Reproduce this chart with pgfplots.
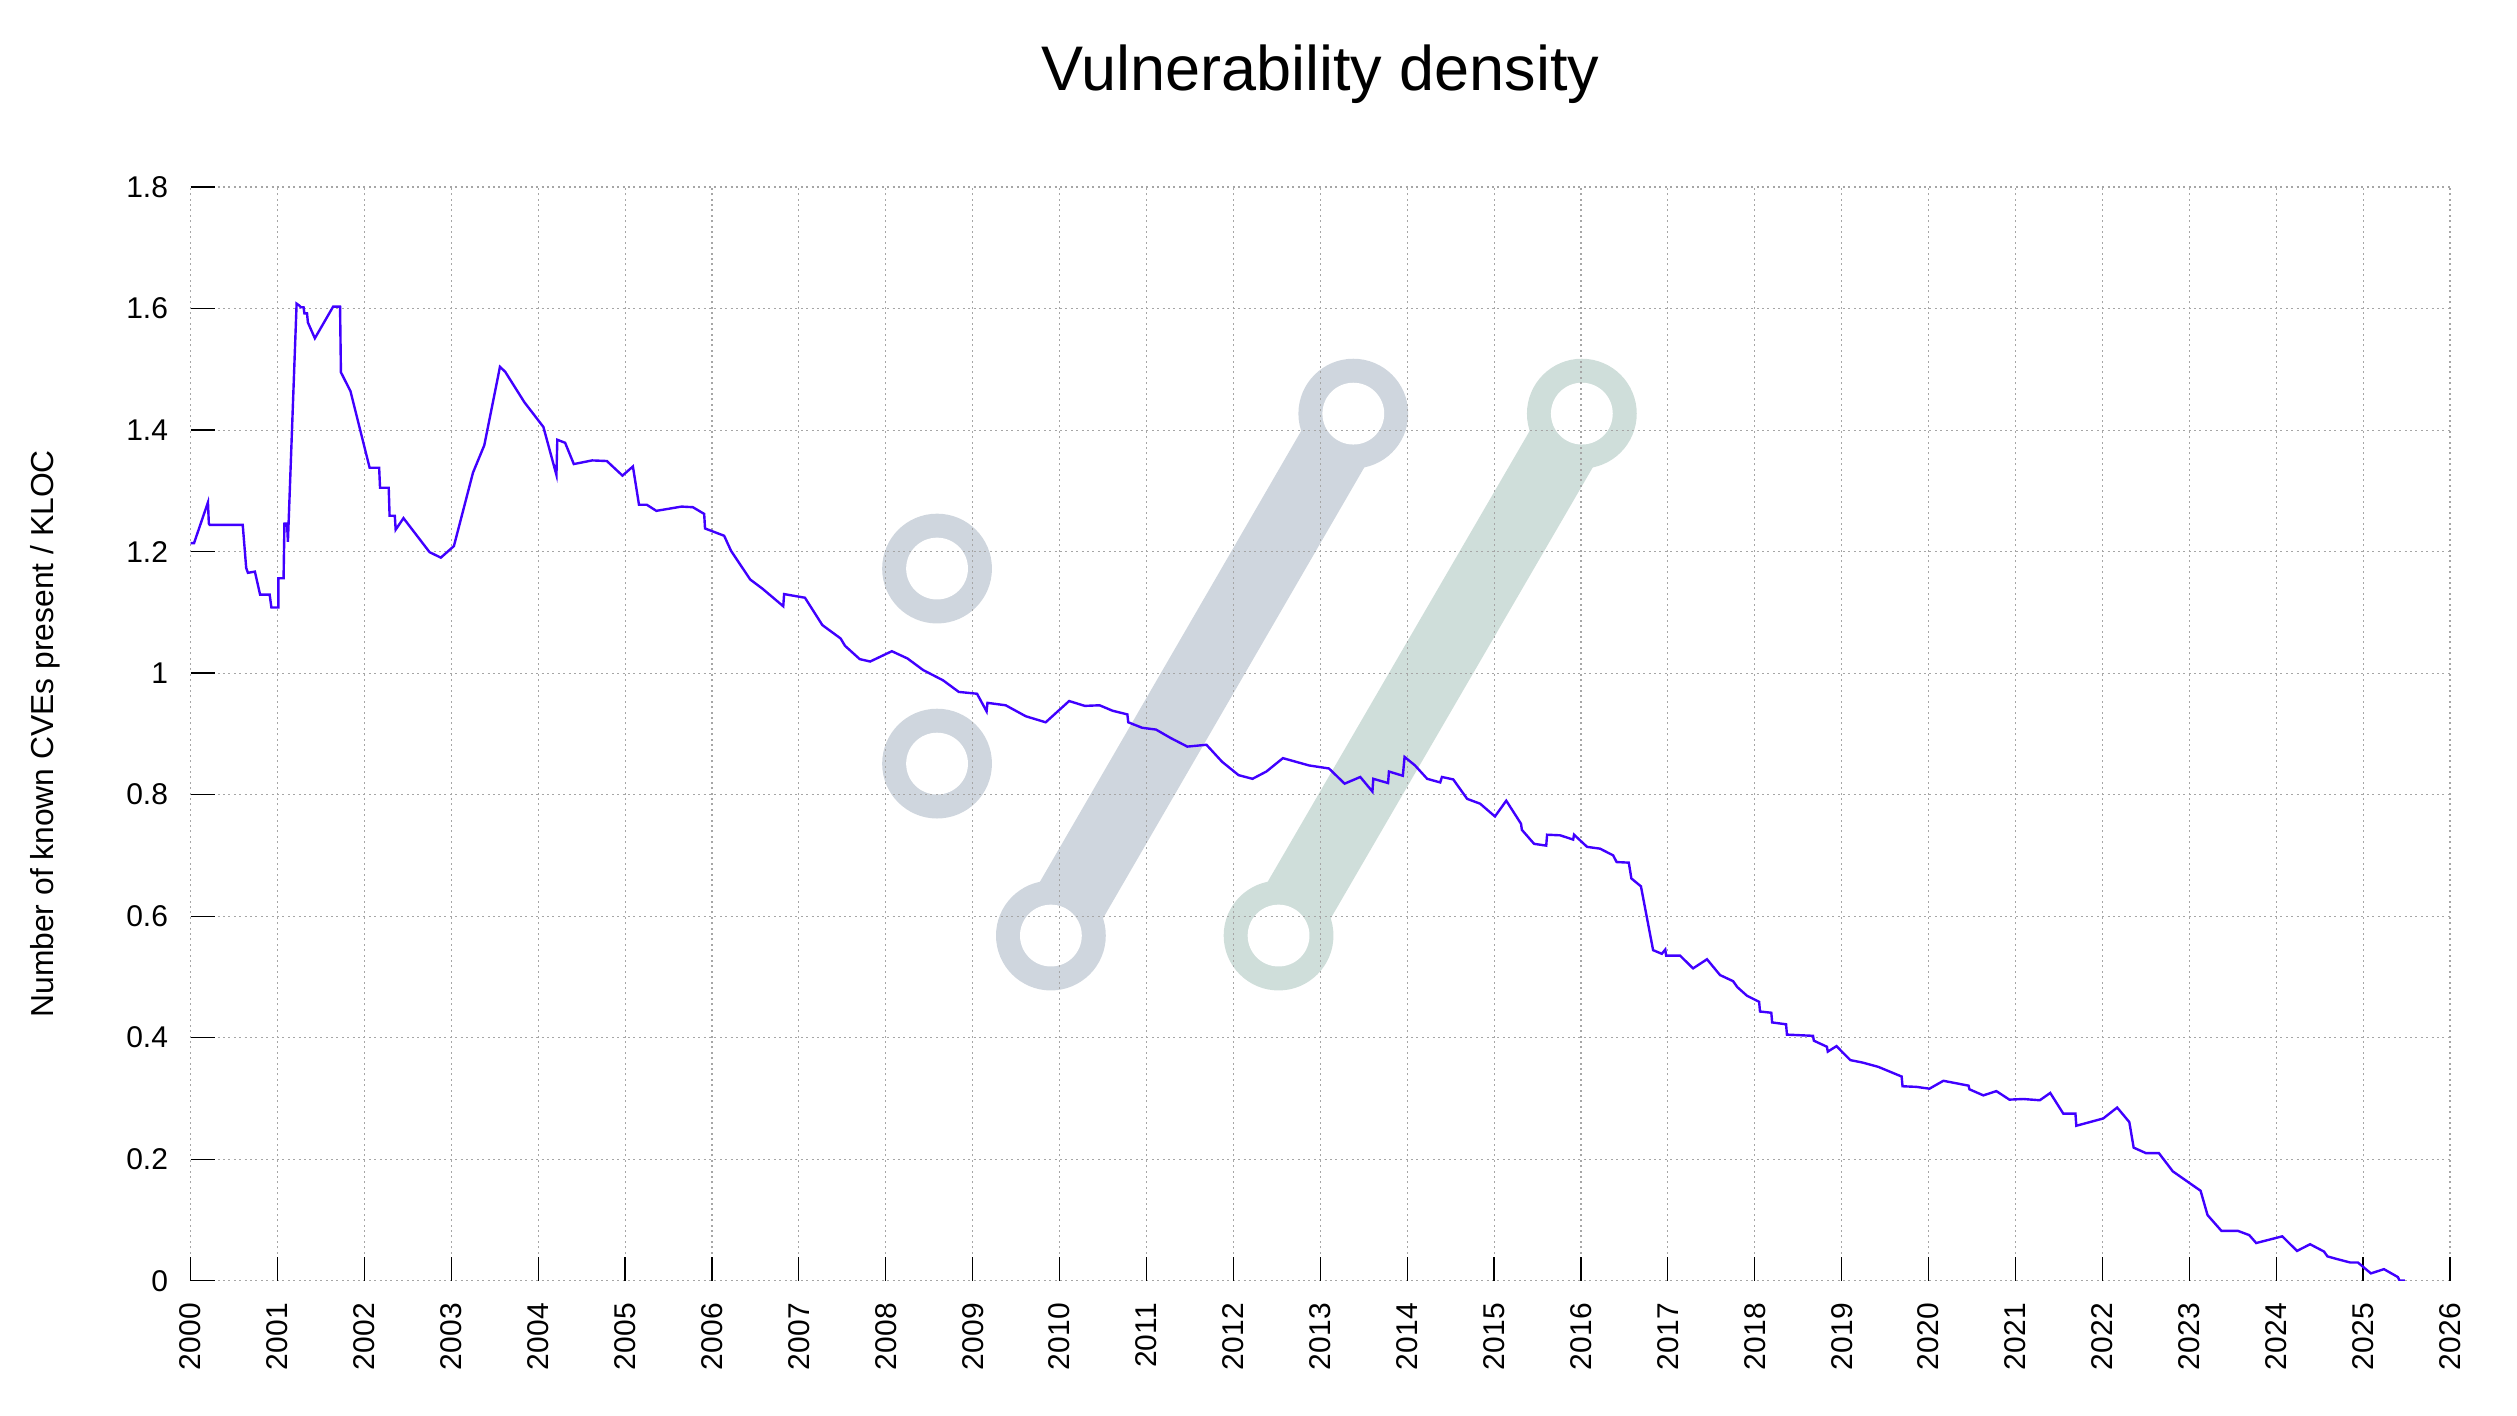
\documentclass[border=0pt]{standalone}
\usepackage{fontspec}
\setmainfont{Liberation Sans}
\usepackage{pgfplots}
\pgfplotsset{compat=1.18}
\definecolor{vdline}{RGB}{64,0,255}
\definecolor{wmblue}{RGB}{207,214,222}
\definecolor{wmgreen}{RGB}{207,222,218}

\begin{document}
\begin{tikzpicture}
\begin{axis}[
    set layers,
    scale only axis,
    width=753.13pt, height=364.57pt,
    xmin=2000, xmax=2026, ymin=0, ymax=1.8,
    xtick={2000,2001,...,2026},
    ytick={0,0.2,0.4,0.6,0.8,1,1.2,1.4,1.6,1.8},
    axis x line*=bottom, axis y line*=left,
    axis line style={draw=none},
    tick align=inside,
    major tick length=8pt,
    every tick/.style={black, line width=0.4pt},
    grid=major,
    major grid style={black!35, line width=0.35pt, dash pattern=on 0.7pt off 1.1pt},
    /pgf/number format/assume math mode=true,
    /pgf/number format/1000 sep={},
    tick label style={font=\fontsize{10}{12}\selectfont},
    yticklabel style={inner sep=0pt, xshift=-7.33pt, anchor=east},
    xticklabel style={inner sep=0pt, yshift=-7.33pt, rotate=90, anchor=east},
    title={Vulnerability density},
    every axis title/.style={at={(axis description cs:0.5,1)}, anchor=base, yshift=32pt, inner sep=0pt, font=\fontsize{21}{25}\selectfont},
    ylabel={Number of known CVEs present / KLOC},
    every axis y label/.style={at={(axis description cs:-0.0575,0.5)}, rotate=90, anchor=south, inner sep=0pt, font=\fontsize{10.6}{12}\selectfont},
]
% watermark logo, under the grid
\begin{pgfonlayer}{axis background}
  \draw[wmblue, line width=24.3pt] (axis cs:2009.90,0.568) -- (axis cs:2013.38,1.427);
  \draw[wmgreen, line width=24.3pt] (axis cs:2012.52,0.568) -- (axis cs:2016.01,1.427);
  \fill[wmblue] (axis cs:2009.90,0.568) circle[radius=18.3pt];
  \fill[white] (axis cs:2009.90,0.568) circle[radius=10.3pt];
  \fill[wmblue] (axis cs:2013.38,1.427) circle[radius=18.3pt];
  \fill[white] (axis cs:2013.38,1.427) circle[radius=10.3pt];
  \fill[wmgreen] (axis cs:2012.52,0.568) circle[radius=18.3pt];
  \fill[white] (axis cs:2012.52,0.568) circle[radius=10.3pt];
  \fill[wmgreen] (axis cs:2016.01,1.427) circle[radius=18.3pt];
  \fill[white] (axis cs:2016.01,1.427) circle[radius=10.3pt];
  \fill[wmblue] (axis cs:2008.59,1.172) circle[radius=18.3pt];
  \fill[white] (axis cs:2008.59,1.172) circle[radius=10.3pt];
  \fill[wmblue] (axis cs:2008.59,0.851) circle[radius=18.3pt];
  \fill[white] (axis cs:2008.59,0.851) circle[radius=10.3pt];
\end{pgfonlayer}
\addplot[vdline, line width=0.8pt, no markers] coordinates {
(2000.00,1.214) (2000.04,1.214) (2000.20,1.281) (2000.21,1.246) (2000.22,1.244)
(2000.60,1.244) (2000.64,1.173) (2000.66,1.165) (2000.74,1.167) (2000.80,1.129)
(2000.91,1.129) (2000.93,1.108) (2001.01,1.108) (2001.01,1.156) (2001.07,1.156)
(2001.08,1.246) (2001.11,1.246) (2001.12,1.216) (2001.22,1.608) (2001.25,1.605)
(2001.27,1.602) (2001.30,1.602) (2001.31,1.592) (2001.34,1.592) (2001.35,1.577)
(2001.43,1.551) (2001.64,1.603) (2001.72,1.603) (2001.73,1.495) (2001.84,1.464)
(2002.06,1.338) (2002.17,1.338) (2002.18,1.305) (2002.28,1.305) (2002.29,1.259)
(2002.35,1.259) (2002.36,1.236) (2002.45,1.255) (2002.75,1.199) (2002.88,1.190)
(2003.03,1.209) (2003.25,1.330) (2003.38,1.375) (2003.56,1.504) (2003.62,1.496)
(2003.84,1.446) (2004.06,1.405) (2004.21,1.326) (2004.22,1.384) (2004.31,1.379)
(2004.41,1.344) (2004.62,1.350) (2004.79,1.349) (2004.97,1.325) (2005.09,1.340)
(2005.16,1.277) (2005.25,1.277) (2005.36,1.267) (2005.65,1.274) (2005.78,1.273)
(2005.91,1.262) (2005.92,1.238) (2006.14,1.226) (2006.22,1.201) (2006.44,1.154)
(2006.58,1.139) (2006.82,1.110) (2006.83,1.130) (2007.07,1.124) (2007.27,1.079)
(2007.48,1.057) (2007.53,1.045) (2007.70,1.023) (2007.82,1.019) (2008.07,1.036)
(2008.25,1.024) (2008.43,1.005) (2008.66,0.988) (2008.84,0.969) (2009.05,0.966)
(2009.16,0.937) (2009.17,0.951) (2009.38,0.947) (2009.61,0.929) (2009.84,0.919)
(2010.11,0.954) (2010.29,0.946) (2010.46,0.947) (2010.61,0.938) (2010.78,0.932)
(2010.79,0.919) (2010.95,0.910) (2011.11,0.907) (2011.28,0.893) (2011.47,0.879)
(2011.69,0.882) (2011.87,0.854) (2012.06,0.832) (2012.22,0.826) (2012.38,0.838)
(2012.57,0.860) (2012.87,0.848) (2013.10,0.843) (2013.28,0.818) (2013.46,0.829)
(2013.60,0.805) (2013.61,0.826) (2013.78,0.819) (2013.79,0.838) (2013.95,0.831)
(2013.97,0.862) (2014.09,0.848) (2014.23,0.826) (2014.38,0.820) (2014.40,0.829)
(2014.53,0.825) (2014.69,0.793) (2014.84,0.785) (2015.01,0.764) (2015.14,0.790)
(2015.31,0.752) (2015.32,0.742) (2015.46,0.719) (2015.60,0.716) (2015.61,0.734)
(2015.76,0.733) (2015.91,0.726) (2015.92,0.734) (2016.07,0.714) (2016.22,0.711)
(2016.37,0.700) (2016.41,0.689) (2016.55,0.688) (2016.58,0.662) (2016.69,0.649)
(2016.83,0.544) (2016.93,0.538) (2016.97,0.545) (2016.98,0.535) (2017.14,0.535)
(2017.29,0.514) (2017.45,0.529) (2017.60,0.503) (2017.75,0.493) (2017.80,0.483)
(2017.91,0.469) (2018.05,0.459) (2018.06,0.443) (2018.19,0.441) (2018.20,0.425)
(2018.36,0.422) (2018.37,0.405) (2018.67,0.403) (2018.68,0.395) (2018.83,0.385)
(2018.84,0.377) (2018.94,0.386) (2019.10,0.363) (2019.24,0.359) (2019.42,0.352)
(2019.69,0.336) (2019.70,0.320) (2019.86,0.319) (2020.01,0.316) (2020.17,0.329)
(2020.46,0.321) (2020.47,0.315) (2020.63,0.305) (2020.78,0.312) (2020.93,0.298)
(2021.09,0.299) (2021.28,0.297) (2021.40,0.309) (2021.55,0.275) (2021.69,0.275)
(2021.70,0.255) (2022.01,0.267) (2022.17,0.285) (2022.31,0.261) (2022.36,0.219)
(2022.50,0.210) (2022.65,0.210) (2022.81,0.180) (2022.99,0.162) (2023.13,0.148)
(2023.21,0.108) (2023.37,0.082) (2023.56,0.082) (2023.69,0.075) (2023.77,0.062)
(2024.07,0.073) (2024.24,0.049) (2024.39,0.060) (2024.55,0.048) (2024.59,0.040)
(2024.69,0.036) (2024.85,0.030) (2024.94,0.030) (2025.09,0.012) (2025.24,0.019)
(2025.40,0.006) (2025.42,0.000) (2025.48,0.000)
};
\end{axis}
% page size: same margins round the axis as in the reference
\path (-63.53pt,-44.77pt) rectangle (775.47pt,426.9pt);
\end{tikzpicture}
\end{document}
